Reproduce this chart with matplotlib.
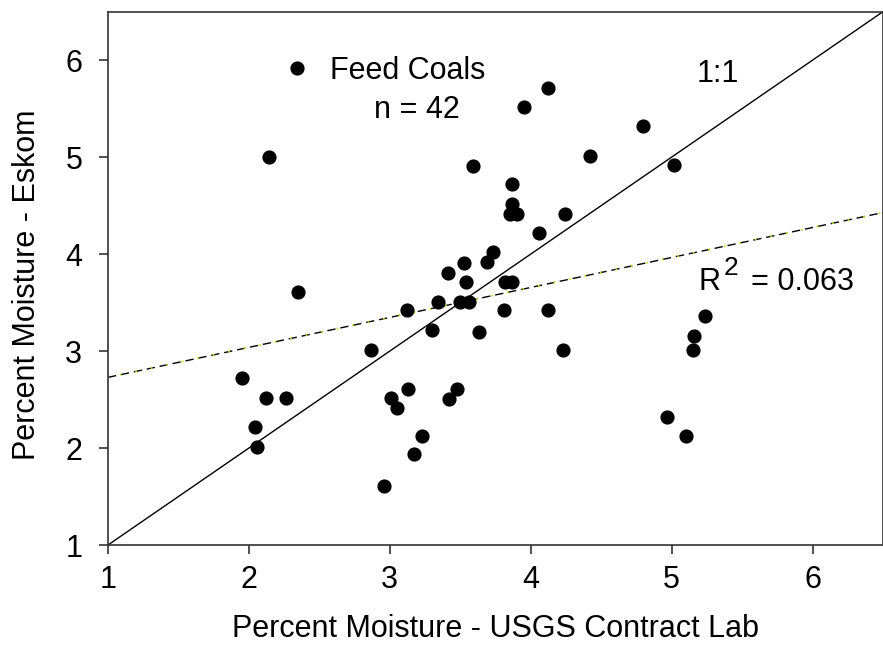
import numpy as np
import matplotlib
matplotlib.use("Agg")
import matplotlib.pyplot as plt
from matplotlib.lines import Line2D

plt.rcParams['font.family'] = ['Liberation Sans', 'DejaVu Sans']

# moisture (%) measured by the USGS contract lab vs. Eskom, feed coals
usgs = [2.14, 3.59, 4.12, 3.95, 4.80, 4.42, 5.02, 3.87, 3.87, 3.85,
        3.90, 4.24, 4.06, 3.73, 3.69, 3.53, 3.41, 3.54, 3.82, 3.87,
        2.35, 3.34, 3.50, 3.56, 3.12, 3.81, 4.12, 3.30, 3.63, 2.87,
        4.23, 5.24, 5.16, 5.15, 1.95, 2.12, 2.26, 3.01, 3.42, 3.13,
        3.48, 3.05, 2.04, 2.06, 3.23, 3.17, 2.96, 4.97, 5.10]
eskom = [5.00, 4.91, 5.71, 5.52, 5.32, 5.01, 4.92, 4.72, 4.52, 4.41,
         4.41, 4.41, 4.22, 4.02, 3.92, 3.91, 3.81, 3.71, 3.71, 3.71,
         3.61, 3.51, 3.51, 3.51, 3.42, 3.42, 3.42, 3.22, 3.20, 3.01,
         3.01, 3.36, 3.16, 3.01, 2.72, 2.52, 2.52, 2.52, 2.51, 2.61,
         2.61, 2.41, 2.22, 2.01, 2.12, 1.94, 1.61, 2.32, 2.12]

n_label = 42
r_squared = 0.063
# regression line (eskom = icept + slope * usgs)
fit_icept = 2.42
fit_slope = 0.309
ticks = [1, 2, 3, 4, 5, 6]
lims = (1, 6.5)

fs = 22

fig = plt.figure(figsize=(8.83, 6.56), dpi=100)
ax = fig.add_axes([0.1223, 0.1692, 0.8777, 0.8130])

x = np.array(usgs)
y = np.array(eskom)

# 1:1 line
ax.plot(lims, lims, color='black', lw=1.0, zorder=2)

# regression, black dashes with little green dots between them
fx = np.array(lims)
fy = fit_icept + fit_slope * fx
ax.plot(fx, fy, color='black', lw=1.0, linestyle=(0, (6, 3.5)), zorder=2)
ax.plot(fx, fy, color='#b5e61d', lw=1.2, linestyle=(2.25, (1, 8.5)), zorder=2)

ax.plot(x, y, 'o', color='black', ms=9.2, mec='black', zorder=3)

ax.set_xlim(lims)
ax.set_ylim(lims)
ax.set_xticks(ticks)
ax.set_yticks(ticks)

for s in ax.spines.values():
    s.set_color('#333333')
    s.set_linewidth(1.2)
ax.tick_params(direction='out', length=6.5, width=1.2, color='#333333',
               pad=12, labelsize=fs)
ax.tick_params(axis='x', pad=8)

ax.set_xlabel('Percent Moisture - USGS Contract Lab', fontsize=fs)
ax.set_ylabel('Percent Moisture - Eskom', fontsize=fs)
ax.xaxis.set_label_coords(0.5, -0.157)
ax.xaxis.label.set_va('center')
ax.yaxis.set_label_coords(-0.104, 0.488)
ax.yaxis.label.set_va('center')

handle = Line2D([], [], marker='o', ls='none', color='black', ms=9.2)
ax.legend([handle], ['Feed Coals'], loc='center left',
          bbox_to_anchor=(0.224, 0.889), frameon=False, fontsize=fs,
          handlelength=1.0, handletextpad=0.58, borderpad=0,
          borderaxespad=0)
ax.text(3.19, 5.40, 'n = %d' % n_label, ha='center', va='baseline', fontsize=fs)

ax.text(5.33, 5.77, '1:1', ha='center', va='baseline', fontsize=fs)

ax.text(5.19, 3.63, 'R', ha='left', va='baseline', fontsize=fs)
ax.text(5.37, 3.78, '2', ha='left', va='baseline', fontsize=fs - 3)
ax.text(5.565, 3.63, '= %.3f' % r_squared, ha='left', va='baseline', fontsize=fs)

fig.savefig('out.png', dpi=100)
